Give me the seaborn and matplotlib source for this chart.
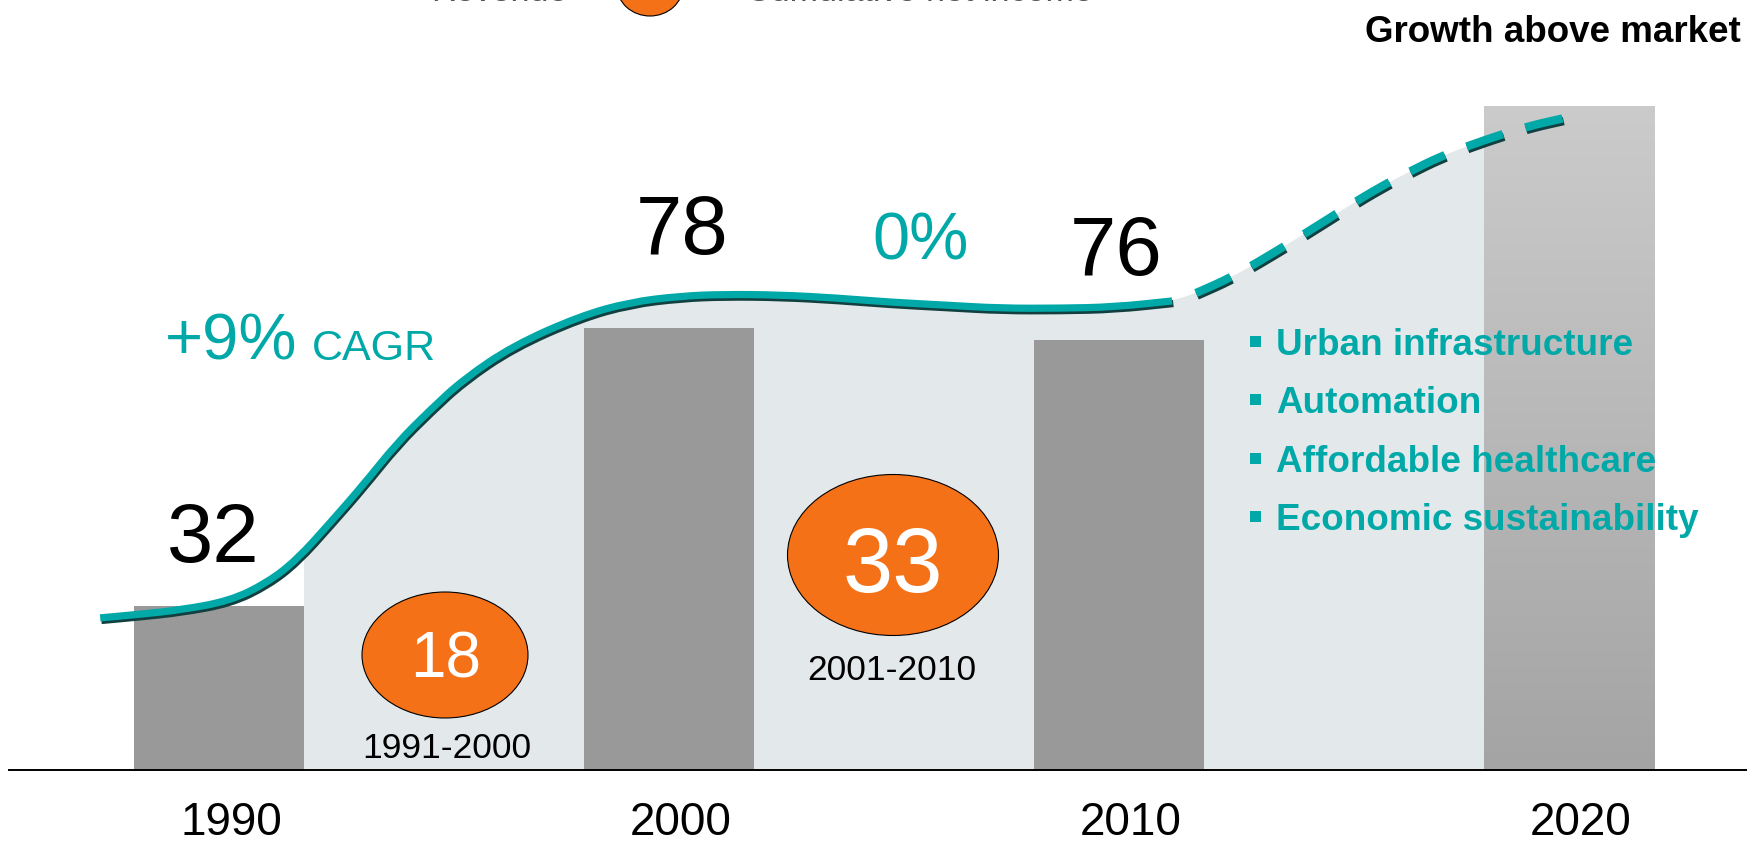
import numpy as np
import pandas as pd
import matplotlib
matplotlib.use("Agg")
import matplotlib.pyplot as plt
from matplotlib.patches import Ellipse, Rectangle, PathPatch
from matplotlib.path import Path
from matplotlib.colors import LinearSegmentedColormap
from matplotlib.transforms import ScaledTranslation
import seaborn as sns

# ---------------- data ----------------
years = ["1990", "2000", "2010", "2020"]
revenue = [32, 78, 76, 114.5]
revenue_labels = ["32", "78", "76"]
net_income = [18, 33]
net_income_periods = ["1991-2000", "2001-2010"]
growth_labels = ["+9%", "0%"]
drivers = ["Urban infrastructure", "Automation", "Affordable healthcare",
           "Economic sustainability"]
title_right = "Growth above market"
legend_left = "Revenue"
legend_right = "Cumulative net income"

# traced trend curve (x in bar-index units, y in revenue units)
trend_x = [-0.264, -0.176, -0.087, 0.024, 0.107, 0.173, 0.247, 0.320, 0.396,
           0.469, 0.542, 0.653, 0.802, 0.913, 1.024, 1.122, 1.247, 1.371,
           1.491, 1.618, 1.736, 1.869, 1.989, 2.118]
trend_y = [30.1, 30.7, 31.4, 32.9, 35.9, 39.7, 45.8, 52.0, 59.0, 64.4, 69.4,
           75.0, 79.9, 82.2, 83.2, 83.5, 83.4, 82.9, 82.2, 81.7, 81.2, 81.2,
           81.4, 82.4]
outlook_x = [2.171, 2.247, 2.313, 2.380, 2.447, 2.513, 2.580, 2.647, 2.713,
             2.780, 2.847, 2.913, 2.991]
outlook_y = [83.7, 86.2, 89.0, 92.0, 95.1, 98.2, 101.2, 103.8, 106.2, 108.1,
             109.8, 111.3, 112.6]

# ---------------- style ----------------
TEAL = "#00a9a8"
SHADOW = "#123f3f"
ORANGE = "#f47118"
BAR = "#999999"
FILL = "#e3e8eb"

sns.set_style("white")
plt.rcParams["font.family"] = ["Liberation Sans", "DejaVu Sans"]

W, H = 1747, 846
fig = plt.figure(figsize=(W / 100, H / 100), dpi=100)
ax = fig.add_axes([9 / W, 76 / H, 1 - 9 / W, 770 / H])

X0, DX, BASE, V0, K = 219.0, 450.0, 770.0, 5.0, 6.06


def px(xp, yp):
    return ((xp - X0) / DX, V0 + (BASE - yp) / K)


def smooth_path(xs, ys, close_to=None):
    """Quadratic B-spline path through the traced points."""
    pts = np.column_stack([xs, ys])
    mids = (pts[:-1] + pts[1:]) / 2
    verts = [pts[0], mids[0]]
    codes = [Path.MOVETO, Path.LINETO]
    for i in range(1, len(pts) - 1):
        verts += [pts[i], mids[i]]
        codes += [Path.CURVE3, Path.CURVE3]
    verts.append(pts[-1])
    codes.append(Path.LINETO)
    if close_to is not None:
        verts += [(pts[-1][0], close_to), (pts[0][0], close_to), pts[0]]
        codes += [Path.LINETO, Path.LINETO, Path.CLOSEPOLY]
    return Path(verts, codes)


BW = 170 / DX

# shaded area below the trend
all_x = trend_x + outlook_x
all_y = trend_y + outlook_y
fill = PathPatch(smooth_path(all_x, all_y, close_to=V0), facecolor=FILL,
                 lw=0, zorder=0.5)
ax.add_patch(fill)
fill.set_clip_path(Rectangle((BW / 2, V0), 3 - BW, 200, transform=ax.transData))

# bars
df = pd.DataFrame({"year": years, "revenue": revenue})
sns.barplot(data=df, x="year", y="revenue", hue="year",
            palette=[BAR, BAR, BAR, "#bbbbbb"], width=BW, dodge=False,
            legend=False, ax=ax, saturation=1, zorder=1)
for p in ax.patches:
    if p is not fill:
        p.set_linewidth(0)
bars = [p for p in ax.patches if isinstance(p, Rectangle)]

# gradient for the outlook bar
last = bars[3]
bx, bw, bh = last.get_x(), last.get_width(), last.get_height()
cmap = LinearSegmentedColormap.from_list("g", ["#a4a4a4", "#cbcbcb"])
grad = np.linspace(0, 1, 256).reshape(-1, 1)
im = ax.imshow(grad, extent=[bx, bx + bw, V0, bh], origin="lower",
               aspect="auto", cmap=cmap, zorder=1.1)
im.set_clip_path(last)

# trend lines with a drop shadow
shift = ax.transData + ScaledTranslation(1.2 / 100, -2.6 / 100,
                                         fig.dpi_scale_trans)
solid = smooth_path(trend_x, trend_y)
dashed = smooth_path(outlook_x, outlook_y)
ax.add_patch(PathPatch(solid, fill=False, edgecolor=SHADOW, lw=5.2,
                       capstyle="butt", transform=shift, zorder=2.9))
ax.add_patch(PathPatch(solid, fill=False, edgecolor=TEAL, lw=5.2,
                       capstyle="butt", zorder=3))
dash = (0, (4.6, 2.8))
ax.add_patch(PathPatch(dashed, fill=False, edgecolor=SHADOW, lw=6.0,
                       linestyle=dash, capstyle="butt", transform=shift,
                       zorder=2.9))
ax.add_patch(PathPatch(dashed, fill=False, edgecolor=TEAL, lw=6.0,
                       linestyle=dash, capstyle="butt", zorder=3))

ax.set_xlim(px(9, 0)[0], px(W, 0)[0])
ax.set_ylim(V0, px(0, 0)[1])

# revenue labels
lab_pos = [(213, 562), (682, 254), (1116, 275)]
for t, (xp, yp) in zip(revenue_labels, lab_pos):
    ax.text(*px(xp, yp), t, ha="center", va="baseline", fontsize=60,
            color="black", zorder=5)

# growth labels
ax.text(*px(165, 360), growth_labels[0], ha="left", va="baseline",
        fontsize=47, color=TEAL, zorder=5)
ax.text(*px(312, 360), "CAGR", ha="left", va="baseline", fontsize=31,
        color=TEAL, zorder=5)
ax.text(*px(921, 259), growth_labels[1], ha="center", va="baseline",
        fontsize=48, color=TEAL, zorder=5)

# net income ellipses
ell_specs = [((445, 655), 166, 126, 46, (446, 678), (447, 758)),
             ((893, 555), 211, 161, 65, (893, 592), (892, 680))]
for val, per, (c, w, h, fs, tpos, ppos) in zip(net_income, net_income_periods,
                                               ell_specs):
    e = Ellipse(px(*c), w / DX, h / K, facecolor=ORANGE, edgecolor="black",
                lw=0.8, zorder=4)
    ax.add_patch(e)
    ax.text(*px(*tpos), str(val), ha="center", va="baseline", fontsize=fs,
            color="white", zorder=5)
    ax.text(*px(*ppos), per, ha="center", va="baseline", fontsize=25.5,
            color="black", zorder=5)

# drivers list
for i, d in enumerate(drivers):
    yb = 355 + i * 58.3
    ax.text(*px(1276, yb), d, ha="left", va="baseline", fontsize=26.6,
            fontweight="bold", color=TEAL, zorder=5)
    ax.add_patch(Rectangle(px(1250, yb - 8), 11 / DX, 11 / K,
                           facecolor=TEAL, lw=0, zorder=5))

# title at right
fig.text(1741 / W, 1 - 42 / H, title_right, ha="right", va="baseline",
         fontsize=26.5, fontweight="bold", color="black")

# partially visible legend at top (cut off by the top edge, as in the source)
ax.add_patch(Ellipse(px(650, -14), 66 / DX, 60 / K, facecolor=ORANGE,
                     edgecolor="black", lw=0.8, clip_on=False, zorder=5))
fig.text(568 / W, 1 - 1 / H, legend_left, ha="right", va="baseline",
         fontsize=24.5, color="#555555")
fig.text(746 / W, 1 - 1 / H, legend_right, ha="left", va="baseline",
         fontsize=24.5, color="#555555")

# axes styling
for s in ["top", "right", "left"]:
    ax.spines[s].set_visible(False)
ax.spines["bottom"].set_color("black")
ax.spines["bottom"].set_linewidth(1.4)
ax.set_yticks([])
ax.set_xlabel("")
ax.set_ylabel("")
ax.set_xticks(range(len(years)))
ax.set_xticklabels(years)
ax.tick_params(axis="x", length=0, pad=22, labelsize=33, labelcolor="black")
off = ScaledTranslation(12 / 100, 0, fig.dpi_scale_trans)
for lab in ax.get_xticklabels():
    lab.set_transform(lab.get_transform() + off)

fig.savefig("out.png", dpi=100)
